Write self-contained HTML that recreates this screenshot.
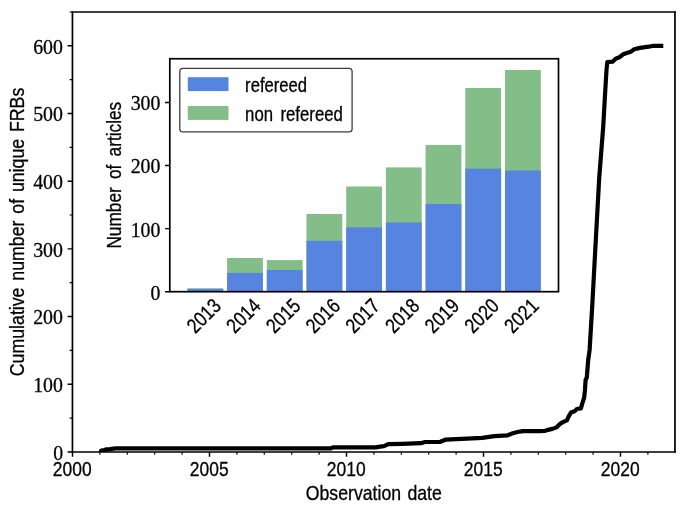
<!DOCTYPE html>
<html lang="en"><head><meta charset="utf-8"><title>Cumulative number of unique FRBs</title>
<style>html,body{margin:0;padding:0;background:#fff;overflow:hidden}svg{display:block}text{fill:#000;stroke:#000;stroke-width:.3px;stroke-linejoin:round}</style>
</head><body>
<svg width="685" height="513" viewBox="0 0 685 513">
<rect width="685" height="513" fill="#fff"/>
<defs><clipPath id="ax"><rect x="72.5" y="12.0" width="602.7" height="439.9"/></clipPath></defs>
<path d="M100.4,453.5 L101.2,450.5 L104.5,450.2 L106.0,449.4 L110.0,449.1 L115.5,448.4 L240.0,448.4 L330.9,448.4 L333.0,447.3 L375.8,447.3 L380.0,446.7 L384.0,446.1 L388.2,444.2 L402.5,443.8 L420.9,443.2 L425.0,442.0 L440.3,441.8 L445.4,439.7 L461.8,438.9 L482.2,437.9 L494.4,436.1 L507.7,435.3 L512.8,433.2 L517.5,432.0 L522.8,431.1 L540.0,431.1 L544.7,431.0 L547.0,430.1 L552.3,428.9 L556.4,427.4 L559.9,423.9 L563.4,421.9 L566.9,420.4 L568.7,416.3 L571.0,412.5 L575.1,411.0 L576.8,409.0 L580.9,408.4 L582.7,402.2 L584.2,397.5 L585.0,389.4 L585.6,380.0 L586.8,377.5 L588.2,360.0 L589.6,350.0 L592.3,305.0 L594.6,262.0 L599.2,178.0 L603.2,127.0 L605.3,90.0 L606.5,70.1 L607.3,62.1 L612.5,61.7 L616.1,58.4 L619.6,57.2 L623.1,54.3 L631.3,51.4 L634.2,49.3 L640.0,47.9 L648.8,46.7 L653.5,45.8 L663.3,45.8" fill="none" stroke="#000" stroke-width="4.2" clip-path="url(#ax)" stroke-linejoin="round" stroke-linecap="butt"/>
<path d="M72.45,11.25V452.65 M674.95,11.25V452.65" fill="none" stroke="#000" stroke-width="1.7"/>
<path d="M71.7,12.0H675.8000000000001 M71.7,451.9H675.8000000000001" fill="none" stroke="#000" stroke-width="1.5"/>
<path d="M72.50,451.9v4.9 M209.50,451.9v4.9 M346.50,451.9v4.9 M483.50,451.9v4.9 M620.50,451.9v4.9 M72.5,451.90h-4.9 M72.5,384.22h-4.9 M72.5,316.53h-4.9 M72.5,248.85h-4.9 M72.5,181.17h-4.9 M72.5,113.48h-4.9 M72.5,45.80h-4.9" stroke="#000" stroke-width="1.45" fill="none"/>
<path d="M99.90,451.9v2.9 M127.30,451.9v2.9 M154.70,451.9v2.9 M182.10,451.9v2.9 M236.90,451.9v2.9 M264.30,451.9v2.9 M291.70,451.9v2.9 M319.10,451.9v2.9 M373.90,451.9v2.9 M401.30,451.9v2.9 M428.70,451.9v2.9 M456.10,451.9v2.9 M510.90,451.9v2.9 M538.30,451.9v2.9 M565.70,451.9v2.9 M593.10,451.9v2.9 M647.90,451.9v2.9 M72.5,418.06h-2.9 M72.5,350.38h-2.9 M72.5,282.69h-2.9 M72.5,215.01h-2.9 M72.5,147.33h-2.9 M72.5,79.64h-2.9 M72.5,11.96h-2.9" stroke="#000" stroke-width="1.15" fill="none"/>
<text x="52.8" y="475.8" font-family='"Liberation Sans", sans-serif' font-size="20.6" textLength="38.8" lengthAdjust="spacingAndGlyphs">2000</text>
<text x="189.8" y="475.8" font-family='"Liberation Sans", sans-serif' font-size="20.6" textLength="38.8" lengthAdjust="spacingAndGlyphs">2005</text>
<text x="326.8" y="475.8" font-family='"Liberation Sans", sans-serif' font-size="20.6" textLength="38.8" lengthAdjust="spacingAndGlyphs">2010</text>
<text x="463.8" y="475.8" font-family='"Liberation Sans", sans-serif' font-size="20.6" textLength="38.8" lengthAdjust="spacingAndGlyphs">2015</text>
<text x="600.8" y="475.8" font-family='"Liberation Sans", sans-serif' font-size="20.6" textLength="38.8" lengthAdjust="spacingAndGlyphs">2020</text>
<text x="53.2" y="459.8" font-family='"Liberation Serif", serif' font-size="21.8" textLength="9.9" lengthAdjust="spacingAndGlyphs">0</text>
<text x="33.2" y="392.1" font-family='"Liberation Serif", serif' font-size="21.8" textLength="29.8" lengthAdjust="spacingAndGlyphs">100</text>
<text x="33.2" y="324.4" font-family='"Liberation Serif", serif' font-size="21.8" textLength="29.8" lengthAdjust="spacingAndGlyphs">200</text>
<text x="33.2" y="256.8" font-family='"Liberation Serif", serif' font-size="21.8" textLength="29.8" lengthAdjust="spacingAndGlyphs">300</text>
<text x="33.2" y="189.1" font-family='"Liberation Serif", serif' font-size="21.8" textLength="29.8" lengthAdjust="spacingAndGlyphs">400</text>
<text x="33.2" y="121.4" font-family='"Liberation Serif", serif' font-size="21.8" textLength="29.8" lengthAdjust="spacingAndGlyphs">500</text>
<text x="33.2" y="53.7" font-family='"Liberation Serif", serif' font-size="21.8" textLength="29.8" lengthAdjust="spacingAndGlyphs">600</text>
<text x="305.8" y="500.3" font-family='"Liberation Sans", sans-serif' font-size="20.3" word-spacing="1.6" textLength="136" lengthAdjust="spacingAndGlyphs">Observation date</text>
<text transform="translate(24.2,376.2) rotate(-90)" font-family='"Liberation Sans", sans-serif' font-size="20.3" word-spacing="2.2" textLength="288.5" lengthAdjust="spacingAndGlyphs">Cumulative number of unique FRBs</text>
<rect x="169.8" y="58.75" width="388.7" height="232.95" fill="#fff"/>
<rect x="187.4" y="288.3" width="35.8" height="3.4" fill="#83BE88"/>
<rect x="187.4" y="288.9" width="35.8" height="2.8" fill="#5784E0"/>
<rect x="227.1" y="258.0" width="35.8" height="33.7" fill="#83BE88"/>
<rect x="227.1" y="272.9" width="35.8" height="18.8" fill="#5784E0"/>
<rect x="266.8" y="260.1" width="35.8" height="31.6" fill="#83BE88"/>
<rect x="266.8" y="270.0" width="35.8" height="21.7" fill="#5784E0"/>
<rect x="306.5" y="214.0" width="35.8" height="77.7" fill="#83BE88"/>
<rect x="306.5" y="240.8" width="35.8" height="50.9" fill="#5784E0"/>
<rect x="346.2" y="186.5" width="35.8" height="105.2" fill="#83BE88"/>
<rect x="346.2" y="227.4" width="35.8" height="64.3" fill="#5784E0"/>
<rect x="385.9" y="167.4" width="35.8" height="124.3" fill="#83BE88"/>
<rect x="385.9" y="222.5" width="35.8" height="69.2" fill="#5784E0"/>
<rect x="425.6" y="145.0" width="35.8" height="146.7" fill="#83BE88"/>
<rect x="425.6" y="204.0" width="35.8" height="87.7" fill="#5784E0"/>
<rect x="465.3" y="88.0" width="35.8" height="203.7" fill="#83BE88"/>
<rect x="465.3" y="168.6" width="35.8" height="123.1" fill="#5784E0"/>
<rect x="505.0" y="70.0" width="35.8" height="221.7" fill="#83BE88"/>
<rect x="505.0" y="170.5" width="35.8" height="121.2" fill="#5784E0"/>
<rect x="169.8" y="58.75" width="388.7" height="232.95" fill="none" stroke="#000" stroke-width="1.7"/>
<path d="M169.8,291.70h-4.8 M169.8,228.60h-4.8 M169.8,165.50h-4.8 M169.8,102.40h-4.8" stroke="#000" stroke-width="1.45" fill="none"/>
<text x="150.6" y="299.6" font-family='"Liberation Serif", serif' font-size="21.8" textLength="9.9" lengthAdjust="spacingAndGlyphs">0</text>
<text x="130.7" y="236.5" font-family='"Liberation Serif", serif' font-size="21.8" textLength="29.8" lengthAdjust="spacingAndGlyphs">100</text>
<text x="130.7" y="173.4" font-family='"Liberation Serif", serif' font-size="21.8" textLength="29.8" lengthAdjust="spacingAndGlyphs">200</text>
<text x="130.7" y="110.3" font-family='"Liberation Serif", serif' font-size="21.8" textLength="29.8" lengthAdjust="spacingAndGlyphs">300</text>
<text transform="translate(203.5,315.5) rotate(-45)" x="-19.2" y="7.4" font-family='"Liberation Sans", sans-serif' font-size="20.6" textLength="38.4" lengthAdjust="spacingAndGlyphs">2013</text>
<text transform="translate(243.2,315.5) rotate(-45)" x="-19.2" y="7.4" font-family='"Liberation Sans", sans-serif' font-size="20.6" textLength="38.4" lengthAdjust="spacingAndGlyphs">2014</text>
<text transform="translate(282.9,315.5) rotate(-45)" x="-19.2" y="7.4" font-family='"Liberation Sans", sans-serif' font-size="20.6" textLength="38.4" lengthAdjust="spacingAndGlyphs">2015</text>
<text transform="translate(322.6,315.5) rotate(-45)" x="-19.2" y="7.4" font-family='"Liberation Sans", sans-serif' font-size="20.6" textLength="38.4" lengthAdjust="spacingAndGlyphs">2016</text>
<text transform="translate(362.3,315.5) rotate(-45)" x="-19.2" y="7.4" font-family='"Liberation Sans", sans-serif' font-size="20.6" textLength="38.4" lengthAdjust="spacingAndGlyphs">2017</text>
<text transform="translate(402.0,315.5) rotate(-45)" x="-19.2" y="7.4" font-family='"Liberation Sans", sans-serif' font-size="20.6" textLength="38.4" lengthAdjust="spacingAndGlyphs">2018</text>
<text transform="translate(441.7,315.5) rotate(-45)" x="-19.2" y="7.4" font-family='"Liberation Sans", sans-serif' font-size="20.6" textLength="38.4" lengthAdjust="spacingAndGlyphs">2019</text>
<text transform="translate(481.4,315.5) rotate(-45)" x="-19.2" y="7.4" font-family='"Liberation Sans", sans-serif' font-size="20.6" textLength="38.4" lengthAdjust="spacingAndGlyphs">2020</text>
<text transform="translate(521.1,315.5) rotate(-45)" x="-19.2" y="7.4" font-family='"Liberation Sans", sans-serif' font-size="20.6" textLength="38.4" lengthAdjust="spacingAndGlyphs">2021</text>
<text transform="translate(121.3,248.6) rotate(-90)" font-family='"Liberation Sans", sans-serif' font-size="20" word-spacing="4" textLength="146.8" lengthAdjust="spacingAndGlyphs">Number of articles</text>
<rect x="179.8" y="68.4" width="172.3" height="63.5" rx="3.2" fill="#fff" stroke="#3c3c3c" stroke-width="1.3"/>
<rect x="187.8" y="77.2" width="40.7" height="13.9" fill="#5784E0"/>
<rect x="187.8" y="106.0" width="40.7" height="13.9" fill="#83BE88"/>
<text x="245.1" y="91.7" font-family='"Liberation Sans", sans-serif' font-size="19.5" textLength="62" lengthAdjust="spacingAndGlyphs">refereed</text>
<text x="245.1" y="120.7" font-family='"Liberation Sans", sans-serif' font-size="19.5" word-spacing="3.2" textLength="97.8" lengthAdjust="spacingAndGlyphs">non refereed</text>
</svg>
</body></html>
